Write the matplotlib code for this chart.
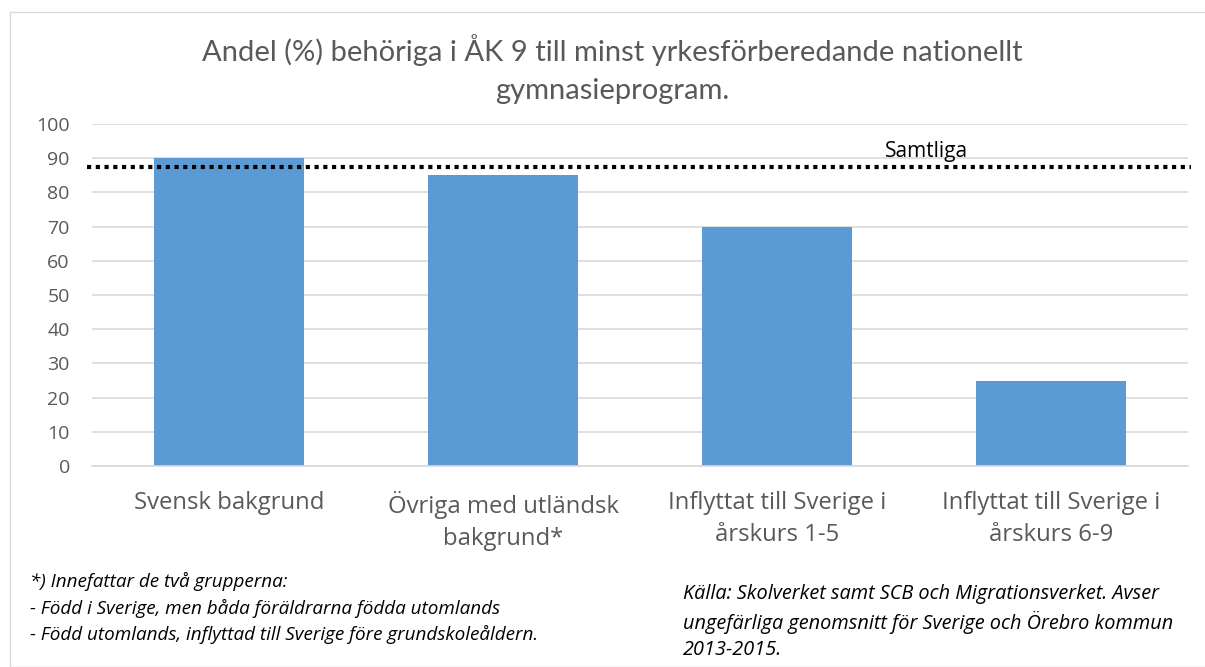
import matplotlib.pyplot as plt
from matplotlib.patches import Rectangle

categories = ["Svensk bakgrund", "Övriga med utländsk\nbakgrund*",
              "Inflyttat till Sverige i\nårskurs 1-5", "Inflyttat till Sverige i\nårskurs 6-9"]
values = [90, 85, 70, 25]
samtliga = 87.5
yticks = list(range(0, 101, 10))

title = "Andel (%) behöriga i ÅK 9 till minst yrkesförberedande nationellt\ngymnasieprogram."
note_left = ("*) Innefattar de två grupperna:\n"
             "- Född i Sverige, men båda föräldrarna födda utomlands\n"
             "- Född utomlands, inflyttad till Sverige före grundskoleåldern.")
note_right = ("Källa: Skolverket samt SCB och Migrationsverket. Avser\n"
              "ungefärliga genomsnitt för Sverige och Örebro kommun\n"
              "2013-2015.")

plt.rcParams['font.family'] = ['Open Sans', 'DejaVu Sans']

W, H = 1205, 667
fig = plt.figure(figsize=(W / 100, H / 100), dpi=100)
fig.patches.append(Rectangle((10 / W, 0), 1.2, 1 - 12 / H, transform=fig.transFigure,
                             fill=False, edgecolor='#d9d9d9', linewidth=1))

ax = fig.add_axes([92 / W, 1 - 466 / H, (1188 - 92) / W, (466 - 124) / H])
x = range(len(categories))
ax.bar(x, values, width=0.545, color='#5b9bd5', zorder=2)
ax.set_xlim(-0.5, len(categories) - 0.5)
ax.set_ylim(0, 100)
ax.set_yticks(yticks)
ax.yaxis.grid(True, color='#d9d9d9', linewidth=1.2, zorder=0)
ax.set_xticks(list(x))
ax.set_xticklabels(categories, fontsize=17.2, color='#595959', linespacing=1.45)
ax.tick_params(axis='y', labelsize=14, labelcolor='#595959', length=0, pad=16)
ax.tick_params(axis='x', length=0, pad=18)
for s in ['top', 'right', 'left']:
    ax.spines[s].set_visible(False)
ax.spines['bottom'].set_color('#d9d9d9')
ax.spines['bottom'].set_linewidth(1.2)

ax.plot([-0.52, 3.51], [samtliga, samtliga], linestyle=(0, (1, 1.1)), color='black',
        linewidth=3, zorder=3, clip_on=False)
ax.text(2.547, samtliga + 1.3, "Samtliga", fontsize=15, ha='center', va='bottom',
        color='black')

fig.text(612 / W, 1 - 69 / H, title, ha='center', va='center', fontsize=21,
         color='#595959', linespacing=1.55, family=['Lato', 'DejaVu Sans'])
fig.text(30 / W, 1 - 608 / H, note_left, ha='left', va='center', fontsize=13.6,
         style='italic', linespacing=1.5)
fig.text(683 / W, 1 - 622 / H, note_right, ha='left', va='center', fontsize=14.3,
         style='italic', linespacing=1.4)

fig.savefig("out.png", dpi=100)
